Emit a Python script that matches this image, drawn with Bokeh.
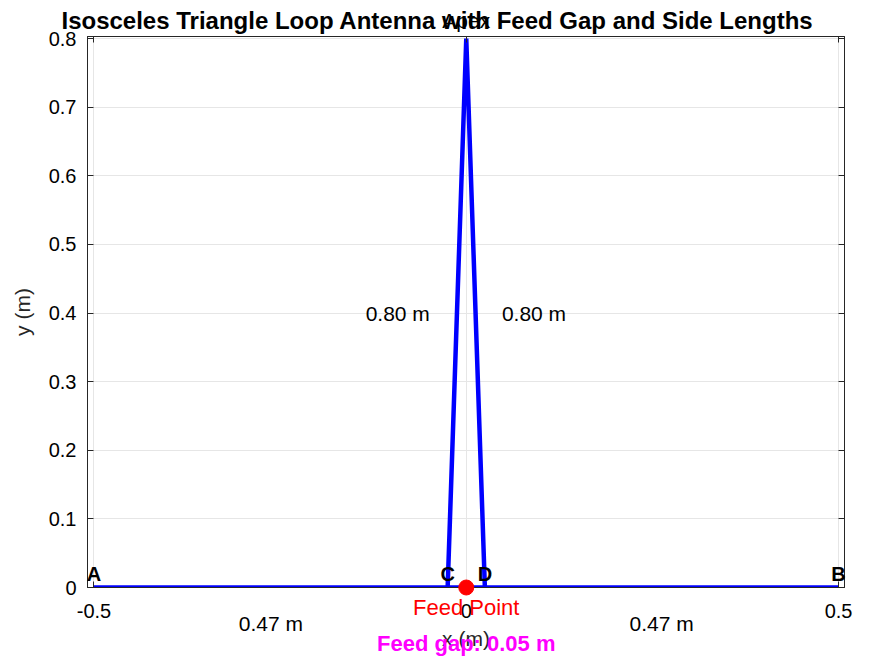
from bokeh.plotting import figure
from bokeh.models import Range1d, LinearAxis, FixedTicker, CustomJSTickFormatter
from bokeh.core.properties import value
from bokeh.embed import file_html
from bokeh.resources import INLINE

# ---- data ----
base_x = [-0.5, 0.5]
base_y = [0.0, 0.0]
side_x = [-0.025, 0.0, 0.025]
side_y = [0.0, 0.8, 0.0]
vertex_names = ["A", "B", "C", "D"]
vertex_x = [-0.5, 0.5, -0.025, 0.025]
vertex_y = [0.0, 0.0, 0.0, 0.0]
feed_x = [0.0]
feed_y = [0.0]
side_len_text = ["0.80 m", "0.80 m"]
side_len_x = [-0.092, 0.091]
side_len_y = [0.4, 0.4]
base_len_text = ["0.47 m", "0.47 m"]
base_len_x = [-0.2625, 0.2625]
gap_text = "Feed gap: 0.05 m"
title_text = "Isosceles Triangle Loop Antenna with Feed Gap and Side Lengths"
x_ticks = [-0.5, 0, 0.5]
x_tick_labels = ["-0.5", "0", "0.5"]
y_ticks = [0, 0.1, 0.2, 0.3, 0.4, 0.5, 0.6, 0.7, 0.8]

FONT = "Liberation Sans"

p = figure(width=876, height=659, output_backend="svg", toolbar_location=None,
           x_range=Range1d(-0.5087, 0.508), y_range=Range1d(0, 0.8032),
           min_border_left=87, min_border_right=32, min_border_top=36, min_border_bottom=72)
p.outline_line_color = "#262626"
p.outline_line_width = 1
p.background_fill_color = "white"
p.border_fill_color = "white"

for ax in (p.xaxis[0], p.yaxis[0]):
    ax.major_tick_in = 6
    ax.major_tick_out = 0
    ax.minor_tick_in = 0
    ax.minor_tick_out = 0
    ax.axis_line_color = "#262626"
    ax.major_tick_line_color = "#262626"
    ax.major_label_text_font = FONT
    ax.major_label_text_font_size = "20px"
    ax.major_label_text_color = "black"
    ax.axis_label_text_font = FONT
    ax.axis_label_text_font_size = "21px"
    ax.axis_label_text_font_style = "normal"
    ax.axis_label_text_color = "#262626"

p.xaxis[0].ticker = FixedTicker(ticks=x_ticks)
p.xaxis[0].major_label_overrides = {t: s for t, s in zip(x_ticks, x_tick_labels)}
p.yaxis[0].ticker = FixedTicker(ticks=y_ticks)
p.xaxis[0].axis_label = "x (m)"
p.yaxis[0].axis_label = "y (m)"
p.xaxis[0].major_label_standoff = 16
p.xaxis[0].axis_label_standoff = 6
p.yaxis[0].major_label_standoff = 11
p.yaxis[0].axis_label_standoff = 12

blank = CustomJSTickFormatter(code="return ''")
top = LinearAxis(ticker=FixedTicker(ticks=x_ticks), formatter=blank,
                 major_tick_in=6, major_tick_out=0, minor_tick_in=0, minor_tick_out=0,
                 axis_line_color="#262626", major_tick_line_color="#262626",
                 major_label_standoff=0)
right = LinearAxis(ticker=FixedTicker(ticks=y_ticks), formatter=blank,
                   major_tick_in=6, major_tick_out=0, minor_tick_in=0, minor_tick_out=0,
                   axis_line_color="#262626", major_tick_line_color="#262626",
                   major_label_standoff=0)
p.add_layout(top, "above")
p.add_layout(right, "right")

p.xgrid.ticker = FixedTicker(ticks=x_ticks)
p.ygrid.ticker = FixedTicker(ticks=y_ticks)
p.grid.grid_line_color = "#e6e6e6"
p.grid.grid_line_width = 1

def txt(x, y, t, size, color="black", style="normal", yoff=0, baseline="middle"):
    p.text(x=x, y=y, text=t, x_offset=0, y_offset=yoff, level="overlay",
           text_font=value(FONT), text_font_size=value(size), text_font_style=style,
           text_color=color, text_align="center", text_baseline=baseline)

# antenna
p.line(base_x, base_y, line_color="#0000ff", line_width=4.5)
p.line(side_x, side_y, line_color="#0000ff", line_width=4.5)
p.scatter(feed_x, feed_y, size=15, color="#ff0000", level="overlay")

# vertex labels
txt(vertex_x, vertex_y, vertex_names, "20px", style="bold", yoff=-14, baseline="alphabetic")
# side lengths
txt(side_len_x, side_len_y, side_len_text, "21px")
# apex
txt([side_x[1]], [side_y[1]], ["Apex"], "21px", yoff=-18, baseline="alphabetic")
# below the axes
txt(feed_x, feed_y, ["Feed Point"], "22px", color="#ff0000", yoff=20)
txt(base_len_x, [0.0, 0.0], base_len_text, "21px", yoff=36)
txt(feed_x, feed_y, [gap_text], "22px", color="#ff00ff", style="bold", yoff=56)
# title
txt([-0.0386], [0.8], [title_text], "24px", style="bold", yoff=-18)

open("out.html", "w").write(file_html(p, INLINE))
